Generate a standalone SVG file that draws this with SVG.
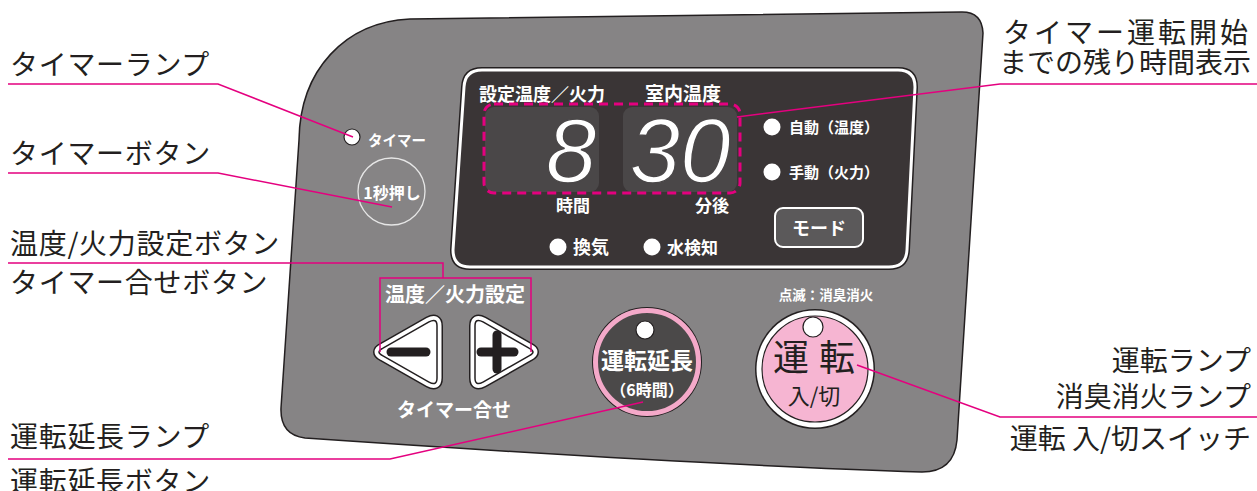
<svg xmlns="http://www.w3.org/2000/svg" width="1257" height="491" viewBox="0 0 1257 491">
<style>
.lbl{font-family:"Noto Sans CJK JP","Noto Sans CJK SC",sans-serif;font-size:28px;fill:#231f20}
.ls{letter-spacing:0.7px}
.w{font-family:"Noto Sans CJK JP","Noto Sans CJK SC",sans-serif;fill:#ffffff;font-weight:bold}
.k{font-family:"Noto Sans CJK JP","Noto Sans CJK SC",sans-serif;fill:#231f20}
.pk{fill:none;stroke:#e4007f;stroke-width:1.5}
.lamp{fill:#ffffff;stroke:#231f20;stroke-width:1.2}
.dot{fill:#ffffff}
.seg{font-family:"Liberation Sans",Arial,sans-serif;font-style:italic;font-size:91px;fill:#ffffff;stroke:#4a4748;stroke-width:1.5}
</style>
<defs>
<path id="tri" d="M383,348.1 L429,321.9 Q437,317.5 437,326 L437,378 Q437,386.5 429,382.1 L383,355.9 Q375,352 383,348.1 Z"/>
</defs>
<rect width="1257" height="491" fill="#ffffff"/>

<g id="panel">
<path d="M299,140 C300,70 345,22 410,19 L962,12 Q982,12 983,33 L957,440 Q954,472 922,472 Q700,465 305,438 Q280,435 281,408 Z" fill="#868485" stroke="#231f20" stroke-width="1.5"/>
</g>

<g id="display">
<path d="M482,70 L898,70 Q915,70 915,87 L907,250 Q906,267 889,267 L470,267 Q453,267 453,250 L464,87 Q465,70 482,70 Z" fill="#3a3536" stroke="#231f20" stroke-width="6"/>
<path d="M482,70 L898,70 Q915,70 915,87 L907,250 Q906,267 889,267 L470,267 Q453,267 453,250 L464,87 Q465,70 482,70 Z" fill="#3a3536" stroke="#ffffff" stroke-width="3"/>
<text class="w" x="542" y="101" font-size="18" text-anchor="middle">設定温度／火力</text>
<text class="w" x="683" y="101" font-size="19" text-anchor="middle">室内温度</text>
<rect x="485" y="107" width="114" height="85" rx="9" fill="#4a4748"/>
<rect x="623" y="107" width="114" height="85" rx="9" fill="#4a4748"/>
<rect x="484" y="104" width="256" height="89" rx="10" fill="none" stroke="#e4007f" stroke-width="3" stroke-dasharray="9,6"/>
<text class="seg" x="571" y="182" text-anchor="middle">8</text>
<text class="seg" x="680" y="182" text-anchor="middle">30</text>
<text class="w" x="573" y="212" font-size="17" text-anchor="middle">時間</text>
<text class="w" x="712" y="212" font-size="17" text-anchor="middle">分後</text>
<circle class="dot" cx="558" cy="247" r="8.5"/>
<text class="w" x="573" y="254" font-size="18">換気</text>
<circle class="dot" cx="652" cy="247" r="8.5"/>
<text class="w" x="667" y="254" font-size="17">水検知</text>
<circle class="dot" cx="772" cy="127" r="8.5"/>
<text class="w" x="789" y="133" font-size="15">自動（温度）</text>
<circle class="dot" cx="772" cy="172" r="8.5"/>
<text class="w" x="789" y="178" font-size="15">手動（火力）</text>
</g>

<g id="mode-button">
<rect x="775" y="208" width="88" height="39" rx="8" fill="#5b595a" stroke="#ffffff" stroke-width="2"/>
<text class="w" x="819" y="235" font-size="18" text-anchor="middle">モード</text>
</g>

<g id="timer-lamp">
<circle class="lamp" cx="352" cy="137" r="8"/>
<text class="w" x="368" y="146" font-size="14.5">タイマー</text>
</g>

<g id="timer-button">
<circle cx="391.5" cy="191.5" r="33.5" fill="#868485" stroke="#e6e6e6" stroke-width="1.3"/>
<text class="w" x="392" y="199" font-size="16" text-anchor="middle">1秒押し</text>
</g>

<g id="set-buttons">
<text class="w" x="455" y="302" font-size="20" text-anchor="middle" font-weight="normal">温度／火力設定</text>
<g id="minus">
<use href="#tri" fill="none" stroke="#231f20" stroke-width="12"/>
<use href="#tri" fill="none" stroke="#ffffff" stroke-width="9"/>
<use href="#tri" fill="#ffffff" stroke="#231f20" stroke-width="1.5"/>
<line x1="391" y1="352" x2="426" y2="352" stroke="#231f20" stroke-width="9" stroke-linecap="round"/>
</g>
<g id="plus">
<g transform="translate(912,0) scale(-1,1)">
<use href="#tri" fill="none" stroke="#231f20" stroke-width="12"/>
<use href="#tri" fill="none" stroke="#ffffff" stroke-width="9"/>
<use href="#tri" fill="#ffffff" stroke="#231f20" stroke-width="1.5"/>
</g>
<line x1="481" y1="352" x2="514" y2="352" stroke="#231f20" stroke-width="9" stroke-linecap="round"/>
<line x1="497" y1="335" x2="497" y2="369" stroke="#231f20" stroke-width="9" stroke-linecap="round"/>
</g>
<text class="w" x="454" y="417" font-size="19" text-anchor="middle" font-weight="normal">タイマー合せ</text>
</g>

<g id="extend-button">
<circle cx="647" cy="362" r="55" fill="#231f20"/>
<circle cx="647" cy="362" r="51.5" fill="#4b4949" stroke="#f4a9c9" stroke-width="5"/>
<circle class="lamp" cx="645" cy="330" r="9"/>
<text class="w" x="647" y="369" font-size="23" font-weight="900" text-anchor="middle" fill="#eeeeee">運転延長</text>
<text class="w" x="647" y="396" font-size="16" text-anchor="middle" font-weight="normal">（6時間）</text>
</g>

<g id="run-button">
<text class="w" x="826" y="300" font-size="13.5" text-anchor="middle">点滅：消臭消火</text>
<circle cx="815" cy="369" r="60" fill="#231f20"/>
<circle cx="815" cy="369" r="58.5" fill="#ffffff"/>
<circle cx="815" cy="369" r="53" fill="#f6b5d2" stroke="#231f20" stroke-width="1.2"/>
<circle class="lamp" cx="813" cy="327" r="10"/>
<text class="k" x="819" y="371" font-size="36" text-anchor="middle" letter-spacing="10">運転</text>
<text class="k" x="814" y="404" font-size="22" text-anchor="middle">入/切</text>
</g>

<g id="labels">
<text class="lbl ls" x="10" y="75">タイマーランプ</text>
<text class="lbl ls" x="10" y="164">タイマーボタン</text>
<text class="lbl ls" x="10" y="254">温度/火力設定ボタン</text>
<text class="lbl ls" x="10" y="293">タイマー合せボタン</text>
<text class="lbl ls" x="10" y="447">運転延長ランプ</text>
<text class="lbl ls" x="10" y="492">運転延長ボタン</text>
<text class="lbl" x="1251" y="43" text-anchor="end" letter-spacing="3">タイマー運転開始</text>
<text class="lbl" x="1251" y="73" text-anchor="end">までの残り時間表示</text>
<text class="lbl" x="1251" y="371" text-anchor="end">運転ランプ</text>
<text class="lbl" x="1251" y="407" text-anchor="end">消臭消火ランプ</text>
<text class="lbl" x="1251" y="449" text-anchor="end">運転 入/切スイッチ</text>
</g>

<g id="connectors">
<polyline class="pk" points="8,84 218,84 353,137"/>
<polyline class="pk" points="8,173 218,173 392,207"/>
<polyline class="pk" points="8,263 443,263 443,278"/>
<polyline class="pk" points="380,352 380,278 531,278 531,352"/>
<polyline class="pk" points="8,459 390,459 643,402"/>
<polyline class="pk" points="1257,84 1000,84 737,117"/>
<polyline class="pk" points="1257,417 1000,417 857,365"/>
</g>
</svg>
